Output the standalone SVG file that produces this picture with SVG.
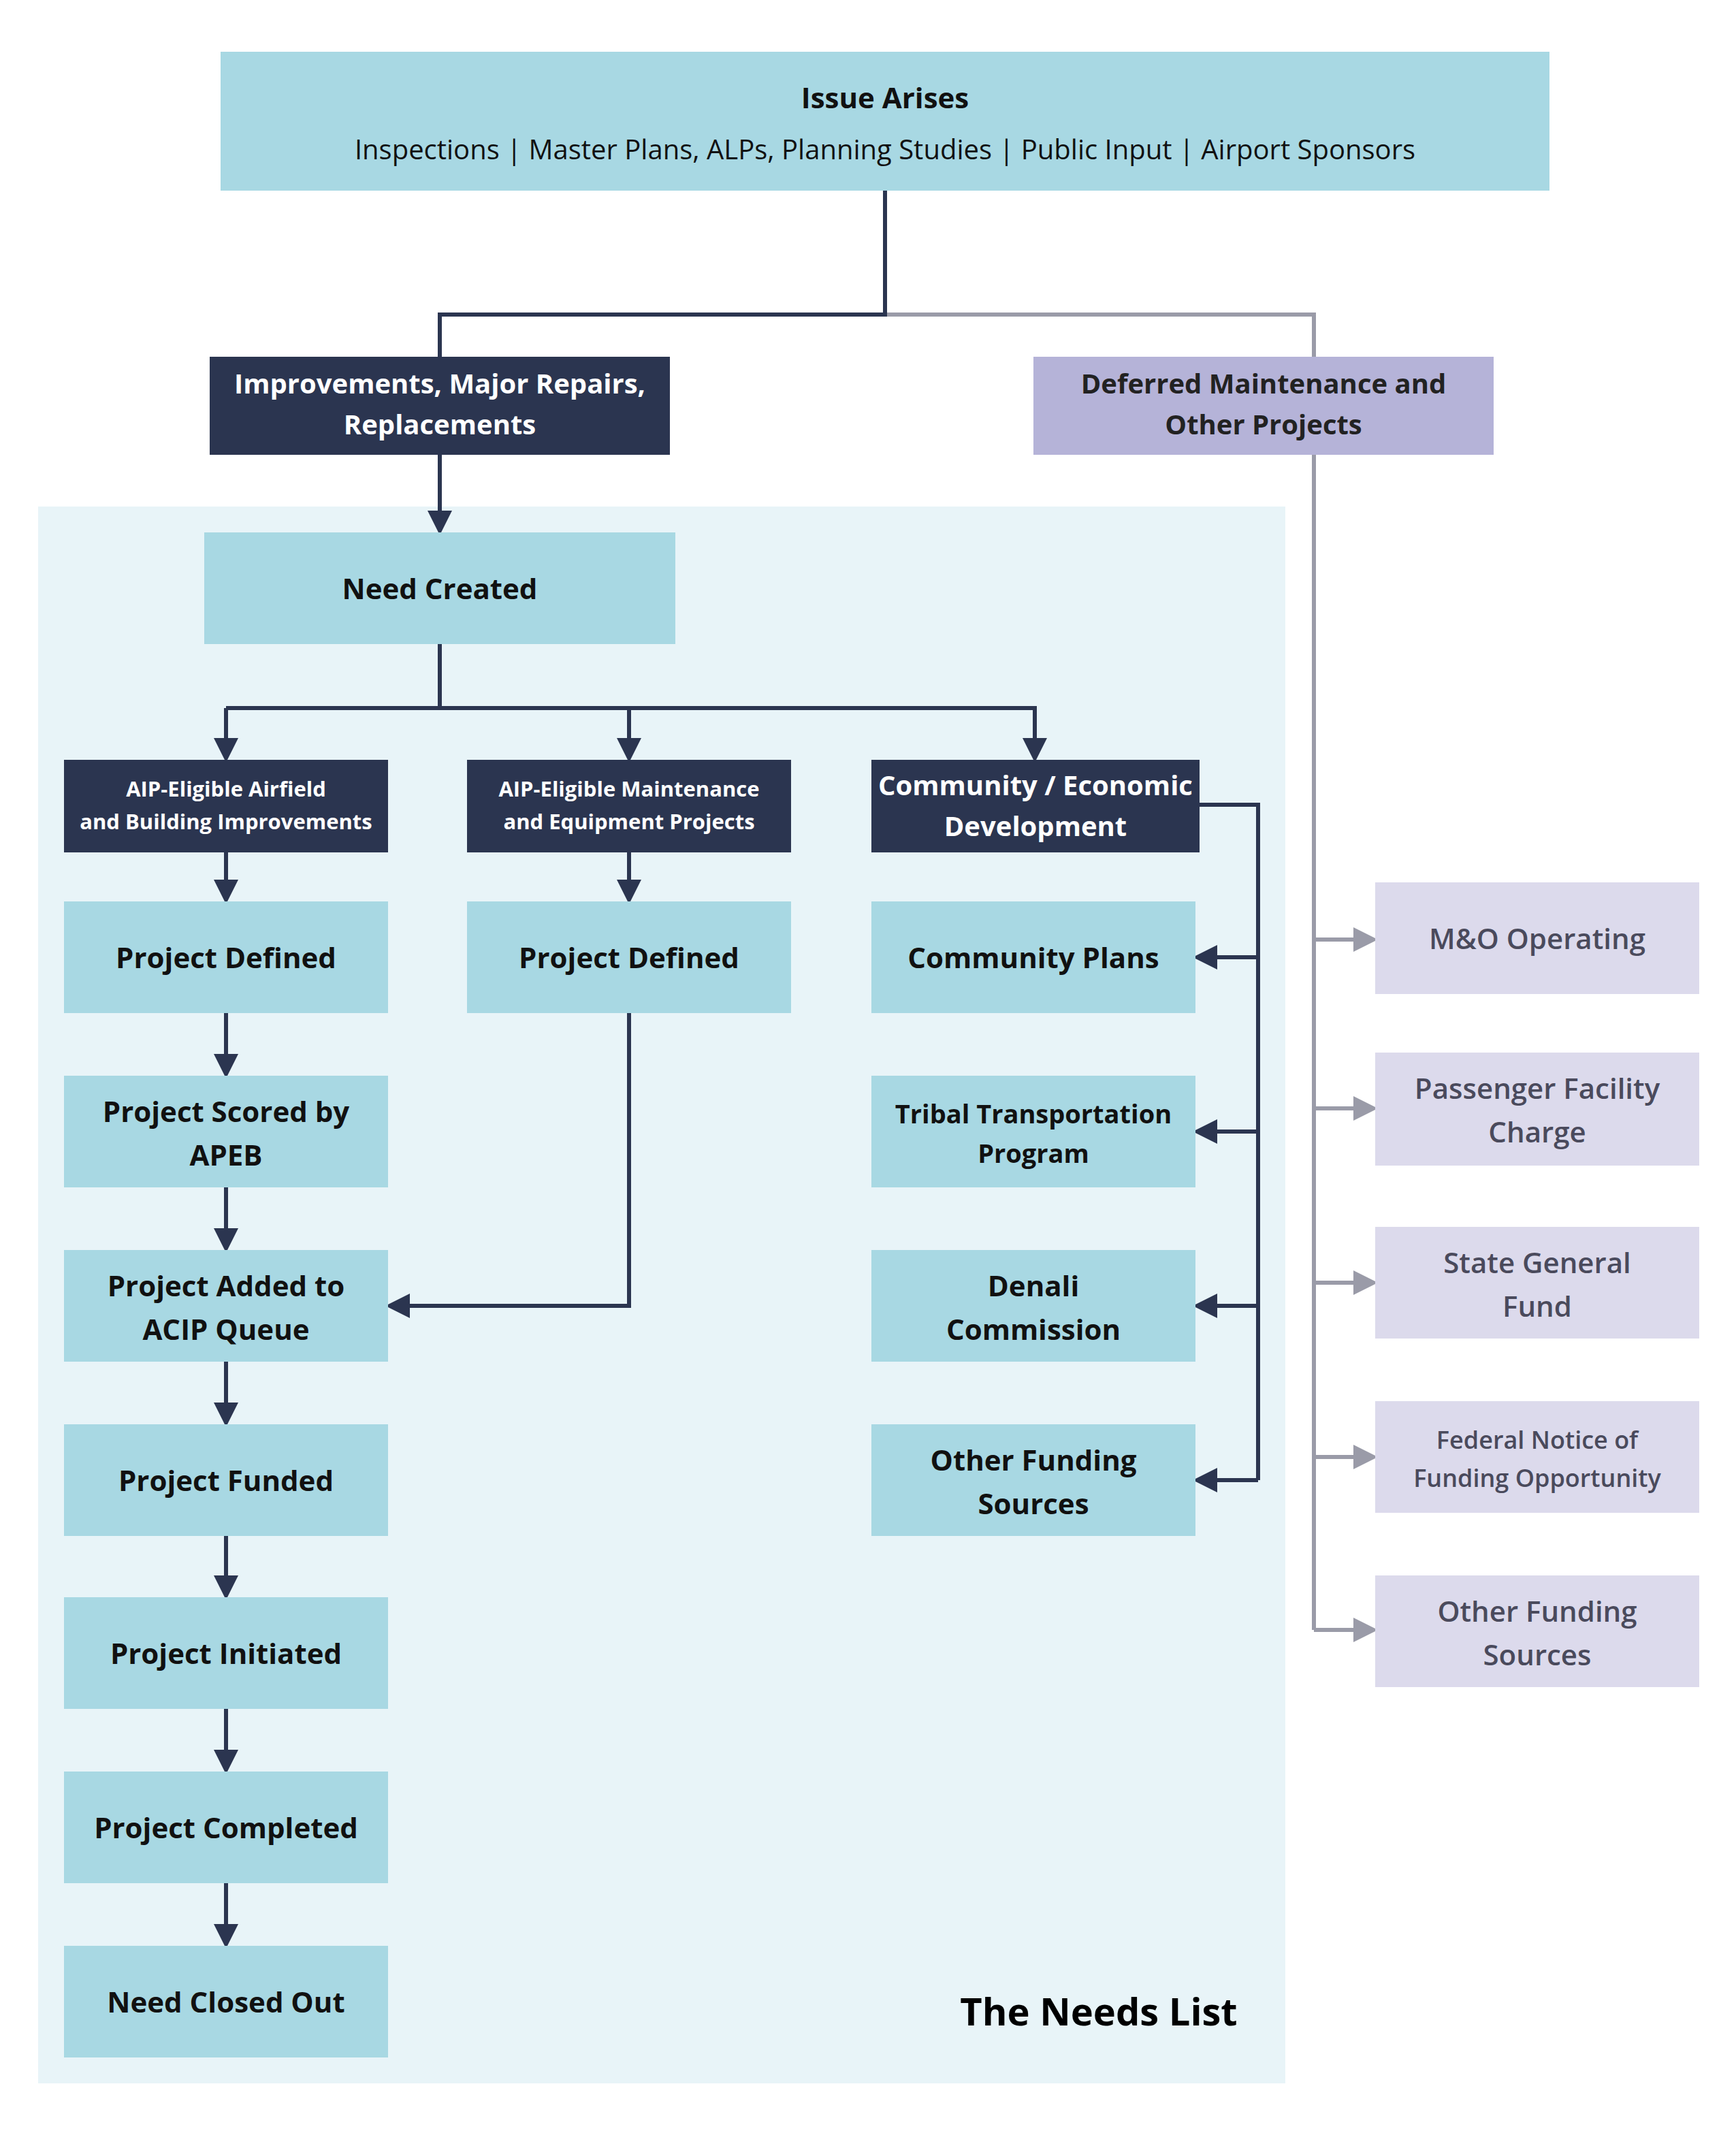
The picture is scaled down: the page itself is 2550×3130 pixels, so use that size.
<svg xmlns="http://www.w3.org/2000/svg" width="2550" height="3130" viewBox="0 0 2550 3130">
<style>
text{font-family:"Open Sans","Noto Sans","Liberation Sans",sans-serif;text-anchor:middle;font-weight:700}
.lb{fill:#a8d8e3}.dk{fill:#2b3550}.lv{fill:#b5b3d8}.lt{fill:#dcdaec}
.t{font-size:42px;fill:#111}.w{fill:#fff;font-size:40px}.ws{fill:#fff;font-size:31px}.g{font-size:42px;fill:#4a4a5c;font-weight:600}
.c{fill:none;stroke:#2b3550;stroke-width:6}.cg{fill:none;stroke:#9a9ba8;stroke-width:6}
</style>
<defs>
<marker id="a" markerWidth="6" markerHeight="6" refX="5" refY="3" orient="auto" markerUnits="strokeWidth"><path d="M0,0 L6,3 L0,6 z" fill="#2b3550"/></marker>
<marker id="ag" markerWidth="6" markerHeight="6" refX="5" refY="3" orient="auto" markerUnits="strokeWidth"><path d="M0,0 L6,3 L0,6 z" fill="#9a9ba8"/></marker>
</defs>
<rect width="2550" height="3130" fill="#fff"/>
<rect x="56" y="744" width="1832" height="2316" fill="#e8f4f8"/>
<text x="1614" y="2975" style="font-size:56px;fill:#000">The Needs List</text>
<g id="connectors">
<path class="cg" d="M1300,462 H1930 V2394"/>
<path class="cg" marker-end="url(#ag)" d="M1930,1380 H2018"/>
<path class="cg" marker-end="url(#ag)" d="M1930,1628 H2018"/>
<path class="cg" marker-end="url(#ag)" d="M1930,1884 H2018"/>
<path class="cg" marker-end="url(#ag)" d="M1930,2140 H2018"/>
<path class="cg" marker-end="url(#ag)" d="M1930,2394 H2018"/>
<path class="c" d="M1300,280 V462 H646 V524"/>
<path class="c" marker-end="url(#a)" d="M646,668 V780"/>
<path class="c" d="M646,946 V1040"/>
<path class="c" marker-end="url(#a)" d="M332,1040 V1114"/>
<path class="c" marker-end="url(#a)" d="M924,1040 V1114"/>
<path class="c" marker-end="url(#a)" d="M332,1040 H1520 V1114"/>
<path class="c" marker-end="url(#a)" d="M332,1252 V1322"/>
<path class="c" marker-end="url(#a)" d="M924,1252 V1322"/>
<path class="c" marker-end="url(#a)" d="M332,1488 V1578"/>
<path class="c" marker-end="url(#a)" d="M332,1744 V1834"/>
<path class="c" marker-end="url(#a)" d="M332,2000 V2090"/>
<path class="c" marker-end="url(#a)" d="M332,2256 V2344"/>
<path class="c" marker-end="url(#a)" d="M332,2510 V2600"/>
<path class="c" marker-end="url(#a)" d="M332,2766 V2856"/>
<path class="c" marker-end="url(#a)" d="M924,1488 V1918 H572"/>
<path class="c" d="M1762,1182 H1848 V2174"/>
<path class="c" marker-end="url(#a)" d="M1848,1406 H1758"/>
<path class="c" marker-end="url(#a)" d="M1848,1662 H1758"/>
<path class="c" marker-end="url(#a)" d="M1848,1918 H1758"/>
<path class="c" marker-end="url(#a)" d="M1848,2174 H1758"/>
</g>
<g id="issue"><rect class="lb" x="324" y="76" width="1952" height="204"/><text class="t" x="1300" y="159">Issue Arises</text><text x="1300" y="234" style="font-size:40px;font-weight:400;fill:#111">Inspections | Master Plans, ALPs, Planning Studies | Public Input | Airport Sponsors</text></g>
<g id="improve"><rect class="dk" x="308" y="524" width="676" height="144"/><text class="w" x="646" y="578">Improvements, Major Repairs,</text><text class="w" x="646" y="638">Replacements</text></g>
<g id="deferred"><rect class="lv" x="1518" y="524" width="676" height="144"/><text x="1856" y="578" style="font-size:40px;fill:#222">Deferred Maintenance and</text><text x="1856" y="638" style="font-size:40px;fill:#222">Other Projects</text></g>
<g id="need"><rect class="lb" x="300" y="782" width="692" height="164"/><text class="t" x="646" y="880">Need Created</text></g>
<g id="aip1"><rect class="dk" x="94" y="1116" width="476" height="136"/><text class="ws" x="332" y="1170">AIP-Eligible Airfield</text><text class="ws" x="332" y="1218">and Building Improvements</text></g>
<g id="aip2"><rect class="dk" x="686" y="1116" width="476" height="136"/><text class="ws" x="924" y="1170">AIP-Eligible Maintenance</text><text class="ws" x="924" y="1218">and Equipment Projects</text></g>
<g id="comm"><rect class="dk" x="1280" y="1116" width="482" height="136"/><text class="w" x="1521" y="1168">Community / Economic</text><text class="w" x="1521" y="1228">Development</text></g>
<g id="pd1"><rect class="lb" x="94" y="1324" width="476" height="164"/><text class="t" x="332" y="1422">Project Defined</text></g>
<g id="ps"><rect class="lb" x="94" y="1580" width="476" height="164"/><text class="t" x="332" y="1648">Project Scored by</text><text class="t" x="332" y="1712">APEB</text></g>
<g id="pa"><rect class="lb" x="94" y="1836" width="476" height="164"/><text class="t" x="332" y="1904">Project Added to</text><text class="t" x="332" y="1968">ACIP Queue</text></g>
<g id="pf"><rect class="lb" x="94" y="2092" width="476" height="164"/><text class="t" x="332" y="2190">Project Funded</text></g>
<g id="pi"><rect class="lb" x="94" y="2346" width="476" height="164"/><text class="t" x="332" y="2444">Project Initiated</text></g>
<g id="pc"><rect class="lb" x="94" y="2602" width="476" height="164"/><text class="t" x="332" y="2700">Project Completed</text></g>
<g id="nc"><rect class="lb" x="94" y="2858" width="476" height="164"/><text class="t" x="332" y="2956">Need Closed Out</text></g>
<g id="pd2"><rect class="lb" x="686" y="1324" width="476" height="164"/><text class="t" x="924" y="1422">Project Defined</text></g>
<g id="cp"><rect class="lb" x="1280" y="1324" width="476" height="164"/><text class="t" x="1518" y="1422">Community Plans</text></g>
<g id="ttp"><rect class="lb" x="1280" y="1580" width="476" height="164"/><text x="1518" y="1650" style="font-size:38px;fill:#111">Tribal Transportation</text><text x="1518" y="1708" style="font-size:38px;fill:#111">Program</text></g>
<g id="dc"><rect class="lb" x="1280" y="1836" width="476" height="164"/><text class="t" x="1518" y="1904">Denali</text><text class="t" x="1518" y="1968">Commission</text></g>
<g id="ofs"><rect class="lb" x="1280" y="2092" width="476" height="164"/><text class="t" x="1518" y="2160">Other Funding</text><text class="t" x="1518" y="2224">Sources</text></g>
<g id="mo"><rect class="lt" x="2020" y="1296" width="476" height="164"/><text class="g" x="2258" y="1394">M&amp;O Operating</text></g>
<g id="pfc"><rect class="lt" x="2020" y="1546" width="476" height="166"/><text class="g" x="2258" y="1614">Passenger Facility</text><text class="g" x="2258" y="1678">Charge</text></g>
<g id="sgf"><rect class="lt" x="2020" y="1802" width="476" height="164"/><text class="g" x="2258" y="1870">State General</text><text class="g" x="2258" y="1934">Fund</text></g>
<g id="fn"><rect class="lt" x="2020" y="2058" width="476" height="164"/><text x="2258" y="2128" style="font-size:36px;fill:#4a4a5c;font-weight:600">Federal Notice of</text><text x="2258" y="2184" style="font-size:36px;fill:#4a4a5c;font-weight:600">Funding Opportunity</text></g>
<g id="ofs2"><rect class="lt" x="2020" y="2314" width="476" height="164"/><text class="g" x="2258" y="2382">Other Funding</text><text class="g" x="2258" y="2446">Sources</text></g>
</svg>
